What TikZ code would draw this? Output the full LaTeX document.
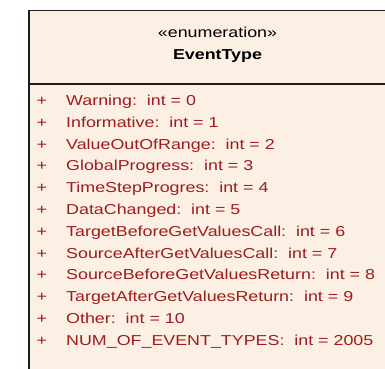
\documentclass[tikz,border=0pt]{standalone}
\usepackage{fontspec}
\newfontfamily\umlfont[FakeStretch=1.24]{Liberation Sans}
\definecolor{enumfill}{RGB}{251,240,227}
\definecolor{enumred}{RGB}{158,28,30}
\definecolor{enumline}{RGB}{30,30,30}

\begin{document}
\begin{tikzpicture}[x=1pt,y=-1pt,
  classbox/.style = {draw=enumline,fill=enumfill,line width=1.5pt,inner sep=0pt,
                     minimum width=392pt,minimum height=390pt,anchor=north west},
  title/.style = {anchor=base,inner sep=0pt,font=\umlfont\fontsize{14.4}{17}\selectfont},
  attr/.style = {anchor=base west,inner sep=0pt,text=enumred,
                 font=\umlfont\fontsize{14.4}{17}\selectfont}]

\useasboundingbox (0,0) rectangle (385,368);
\clip (0,0) rectangle (385,368);

\node[classbox] (eventtype) at (28,9.5) {};
\coordinate (sepl) at (28,84);
\coordinate (sepr) at (420,84);
\draw[enumline,line width=1.5pt] (sepl) -- (sepr);

\node[title] (stereo) at (217.5,37) {«enumeration»};
\node[title,font=\umlfont\bfseries\fontsize{14.4}{17}\selectfont] (name) at (217.5,59.5) {EventType};

\foreach \lit [count=\i] in {Warning:\ \ int = 0,
                            Informative:\ \ int = 1,
                            ValueOutOfRange:\ \ int = 2,
                            GlobalProgress:\ \ int = 3,
                            TimeStepProgres:\ \ int = 4,
                            DataChanged:\ \ int = 5,
                            TargetBeforeGetValuesCall:\ \ int = 6,
                            SourceAfterGetValuesCall:\ \ int = 7,
                            SourceBeforeGetValuesReturn:\ \ int = 8,
                            TargetAfterGetValuesReturn:\ \ int = 9,
                            Other:\ \ int = 10,
                            NUM\_OF\_EVENT\_TYPES:\ \ int = 2005}
{
  \node[attr] (plus\i) at (36.5,{105.5+21.8*(\i-1)}) {+};
  \node[attr] (lit\i) at (66,{105.5+21.8*(\i-1)}) {\lit};
}

\end{tikzpicture}
\end{document}
